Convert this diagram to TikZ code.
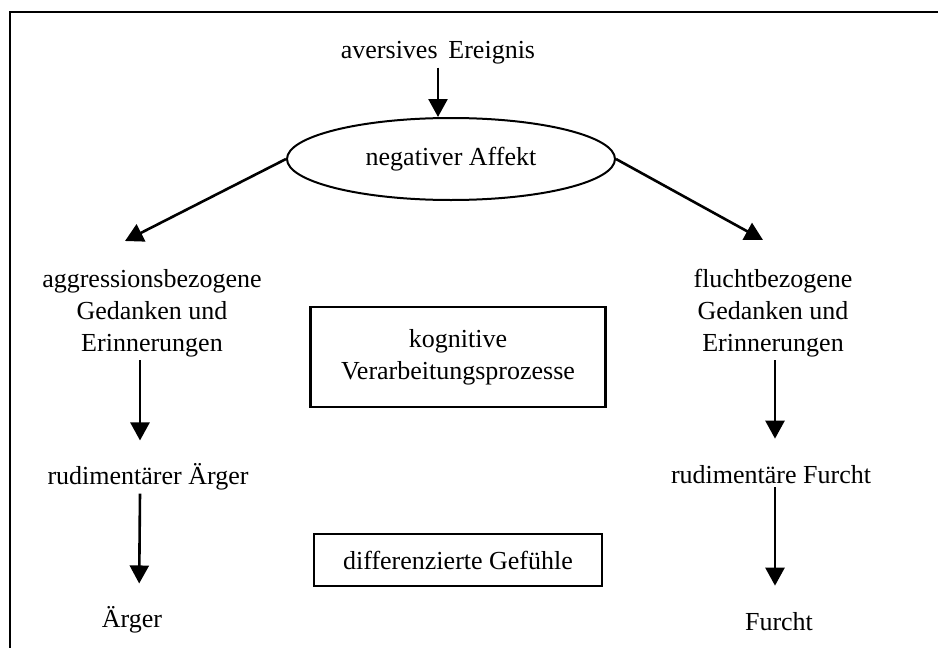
\documentclass[tikz,border=0pt]{standalone}
\usepackage{fontspec}
\setmainfont{Liberation Serif}
\usetikzlibrary{arrows.meta,positioning,shapes.geometric}

\begin{document}
\begin{tikzpicture}[x=1pt, y=-1pt,
    every node/.style={font=\fontsize{26}{32}\selectfont},
    txt/.style={align=center, inner sep=3pt},
    box/.style={rectangle, draw, line width=2.6pt, align=center, inner sep=0pt},
    oval/.style={ellipse, draw, line width=2pt, minimum width=328pt,
        minimum height=82pt, inner sep=0pt},
    arr/.style={-{Triangle[length=18pt, width=19pt]}, line width=2.6pt},
]
\useasboundingbox (0,0) rectangle (938,648);
% Frame
\draw[line width=2.2pt] (10,660) |- (950,12);

% Top
\node[txt] (ereignis) at (438,53) {aversives\ \,Ereignis};
\node[oval] (affekt) at (451,159) {negativer Affekt};
\draw[arr] (ereignis.south) -- (ereignis.south |- affekt.north);

% Two branches
\node[txt] (aggr) at (152,313) {aggressionsbezogene\\Gedanken und\\Erinnerungen};
\node[txt] (flucht) at (773,313) {fluchtbezogene\\Gedanken und\\Erinnerungen};
\coordinate (aggrtip) at (125,241);
\coordinate (fluchttip) at (763,240);
\draw[arr] (affekt.west) -- (aggrtip);
\draw[arr] (affekt.east) -- (fluchttip);

\node[txt] (rudaerger) at (148,477) {rudimentärer Ärger};
\node[txt] (rudfurcht) at (771,475) {rudimentäre Furcht};
\node[txt] (aerger) at (132,620) {Ärger};
\node[txt] (furcht) at (779,622) {Furcht};

\draw[arr, shorten >=20pt] ([xshift=-12pt]aggr.south) -- ([xshift=-8pt]rudaerger.north);
\draw[arr, shorten >=20pt] ([xshift=-8pt]rudaerger.south) -- ([xshift=7pt]aerger.north);
\draw[arr, shorten >=24pt] ([xshift=2pt]flucht.south) -- ([xshift=4pt]rudfurcht.north);
\draw[arr, shorten >=24pt] ([xshift=4pt]rudfurcht.south) -- ([xshift=-4pt]furcht.north);

% Middle boxes
\node[box, minimum width=295pt, minimum height=100pt] (kog) at (458,357)
    {kognitive\\Verarbeitungsprozesse};
\node[box, minimum width=288pt, minimum height=52pt] (diff) at (458,560)
    {differenzierte Gefühle};
\end{tikzpicture}
\end{document}
